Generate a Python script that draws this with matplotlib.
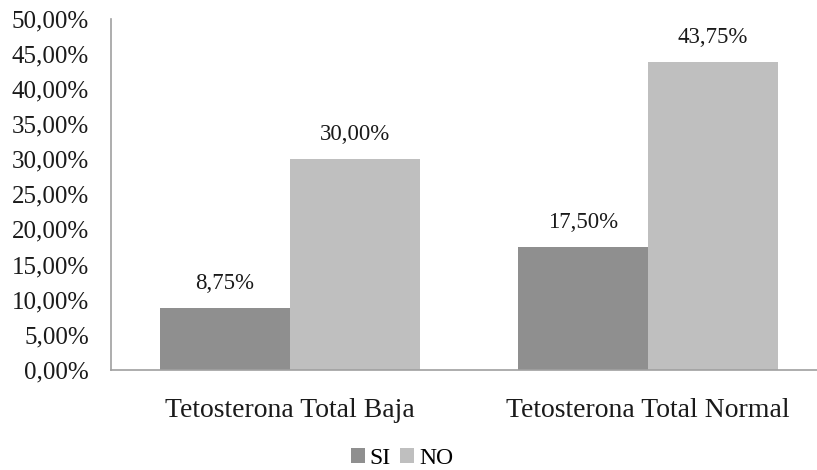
import matplotlib
matplotlib.use('Agg')
import matplotlib.pyplot as plt
import numpy as np

categories = ['Tetosterona Total Baja', 'Tetosterona Total Normal']
si_values = [8.75, 17.50]
no_values = [30.00, 43.75]
series_labels = ['SI', 'NO']
yticks = [0, 5, 10, 15, 20, 25, 30, 35, 40, 45, 50]

plt.rcParams['font.family'] = ['Liberation Serif', 'DejaVu Serif']

def pct(v):
    return ('%.2f%%' % v).replace('.', ',')

fig = plt.figure(figsize=(8.17, 4.7), dpi=100)
ax = fig.add_axes([111 / 817, 1 - 370 / 470, (817 - 111) / 817, (370 - 18.5) / 470])

x = np.arange(len(categories))
w = 130 / 358
colors = ['#8f8f8f', '#bfbfbf']
bars_si = ax.bar(x - w / 2, si_values, w, color=colors[0], label=series_labels[0])
bars_no = ax.bar(x + w / 2, no_values, w, color=colors[1], label=series_labels[1])

for bars in (bars_si, bars_no):
    for b in bars:
        ax.text(b.get_x() + b.get_width() / 2, b.get_height() + 2.0, pct(b.get_height()),
                ha='center', va='bottom', fontsize=16.5, color='#1a1a1a')

ax.set_xlim(-0.5, -0.5 + 706 / 358)
ax.set_ylim(0, 50)
ax.set_yticks(yticks)
ax.set_yticklabels([pct(v) for v in yticks], fontsize=18, color='#1a1a1a')
ax.set_xticks(x)
ax.set_xticklabels(categories, fontsize=20, color='#1a1a1a')
ax.tick_params(axis='both', length=0)
ax.tick_params(axis='y', pad=16)
ax.tick_params(axis='x', pad=20)

for s in ['top', 'right']:
    ax.spines[s].set_visible(False)
for s in ['left', 'bottom']:
    ax.spines[s].set_color('#a0a0a0')
    ax.spines[s].set_linewidth(1.2)

ax.legend(loc='center', bbox_to_anchor=(402 / 817, 1 - 458 / 470), bbox_transform=fig.transFigure,
          ncol=2, frameon=False, fontsize=17, handlelength=0.6, handleheight=0.6,
          handletextpad=0.2, columnspacing=0.4)

fig.savefig('out.png', dpi=100)
